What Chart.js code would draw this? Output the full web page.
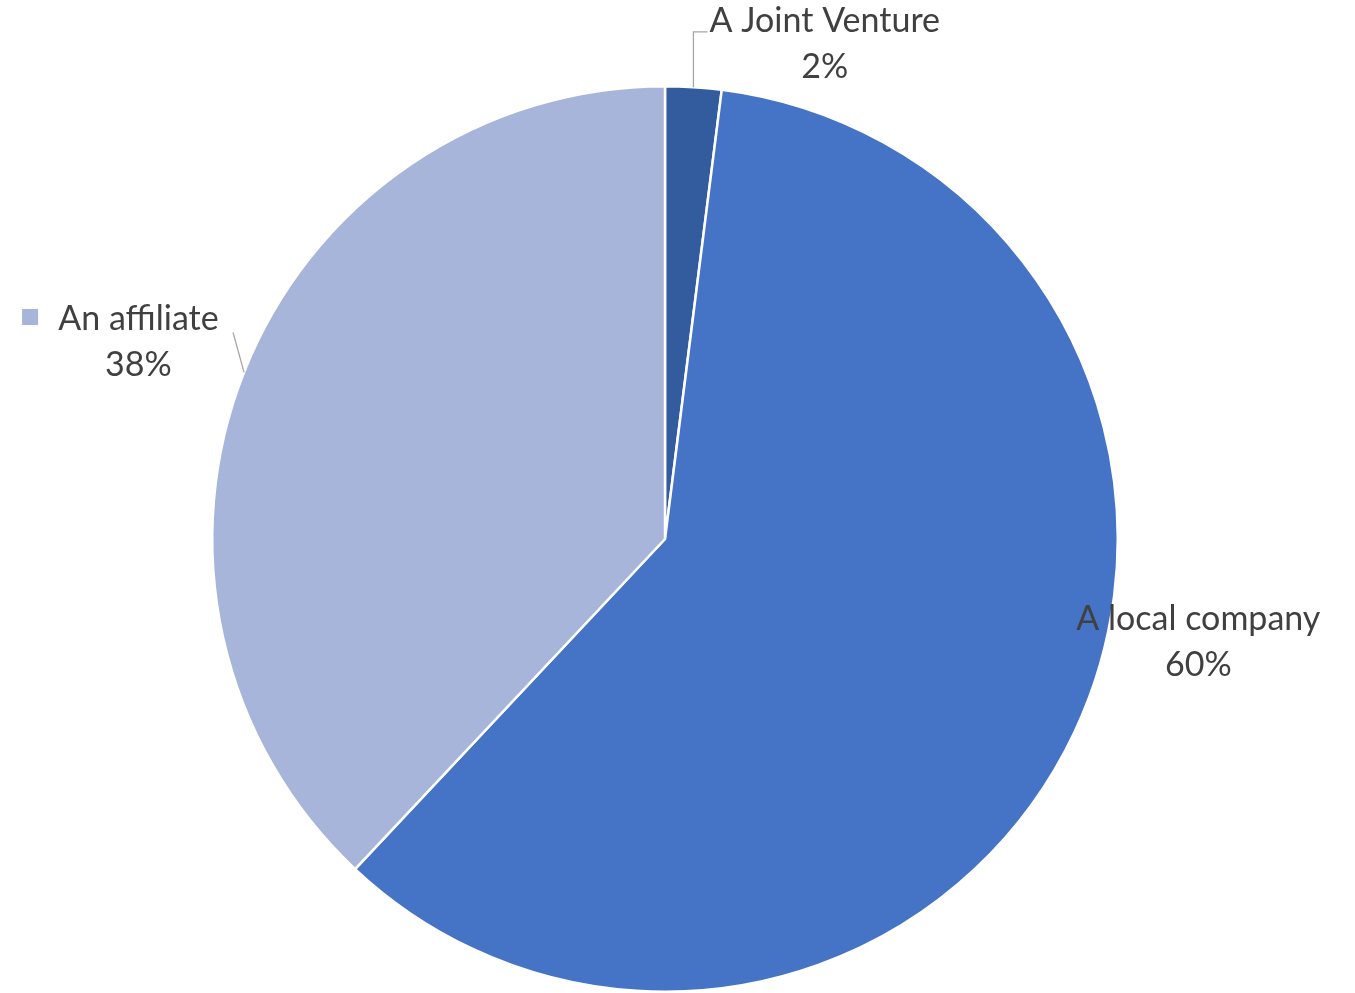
<!DOCTYPE html>
<html>
<head>
<meta charset="utf-8">
<script src="https://cdn.jsdelivr.net/npm/chart.js@4"></script>
<style>
  html, body { margin: 0; padding: 0; background: #fff; }
  #wrap { width: 1355px; height: 993px; }
</style>
</head>
<body>
<div id="wrap"><canvas id="chart-pie"></canvas></div>
<script>
const categories = ['A Joint Venture', 'A local company', 'An affiliate'];
const shares     = [2, 60, 38];
const colours    = ['#335C9F', '#4573C5', '#A7B5DA'];

// where each label sits, relative to the pie centre, in radius units
const labelPlace = [
  { dx: 0.353,  dy: -1.143 },
  { dx: 1.178,  dy: 0.177 },
  { dx: -1.163, dy: -0.486 }
];

const pieLabels = {
  id: 'pieLabels',
  afterDatasetsDraw(chart) {
    const ctx = chart.ctx;
    const arcs = chart.getDatasetMeta(0).data;
    const cx = arcs[0].x, cy = arcs[0].y, r = arcs[0].outerRadius;
    ctx.save();
    ctx.font = '34px Lato, "Open Sans", sans-serif';
    ctx.fillStyle = '#404040';
    ctx.textAlign = 'center';
    ctx.textBaseline = 'middle';
    categories.forEach((name, i) => {
      const p = labelPlace[i];
      const x = cx + p.dx * r, y = cy + p.dy * r;
      ctx.fillText(name, x, y);
      ctx.fillText(shares[i] + '%', x, y + 46);
    });

    // leader lines
    ctx.strokeStyle = '#A6A6A6';
    ctx.lineWidth = 1.3;
    const jv = arcs[0];
    const a0 = (jv.startAngle + jv.endAngle) / 2;
    const jx = cx + Math.cos(a0) * r, jy = cy + Math.sin(a0) * r;
    ctx.beginPath();
    ctx.moveTo(jx, jy);
    ctx.lineTo(jx, cy - 1.12 * r);
    ctx.lineTo(jx + 14, cy - 1.12 * r);
    ctx.stroke();

    const af = arcs[2];
    const a2 = (af.startAngle + af.endAngle) / 2;
    const ax = cx + Math.cos(a2) * r, ay = cy + Math.sin(a2) * r;
    ctx.beginPath();
    ctx.moveTo(ax, ay);
    ctx.lineTo(ax - 11, ay - 40);
    ctx.stroke();

    // legend key beside the affiliate label
    ctx.fillStyle = colours[2];
    ctx.fillRect(cx - 1.42 * r, cy - 0.508 * r, 16, 16);
    ctx.restore();
  }
};

new Chart(document.getElementById('chart-pie').getContext('2d'), {
  type: 'pie',
  data: {
    labels: categories,
    datasets: [{
      data: shares,
      backgroundColor: colours,
      borderColor: '#ffffff',
      borderWidth: 2.5
    }]
  },
  options: {
    responsive: true,
    maintainAspectRatio: false,
    animation: false,
    layout: { padding: { left: 209, right: 234, top: 85, bottom: 0 } },
    plugins: { legend: { display: false }, tooltip: { enabled: false } }
  },
  plugins: [pieLabels]
});
</script>
</body>
</html>
